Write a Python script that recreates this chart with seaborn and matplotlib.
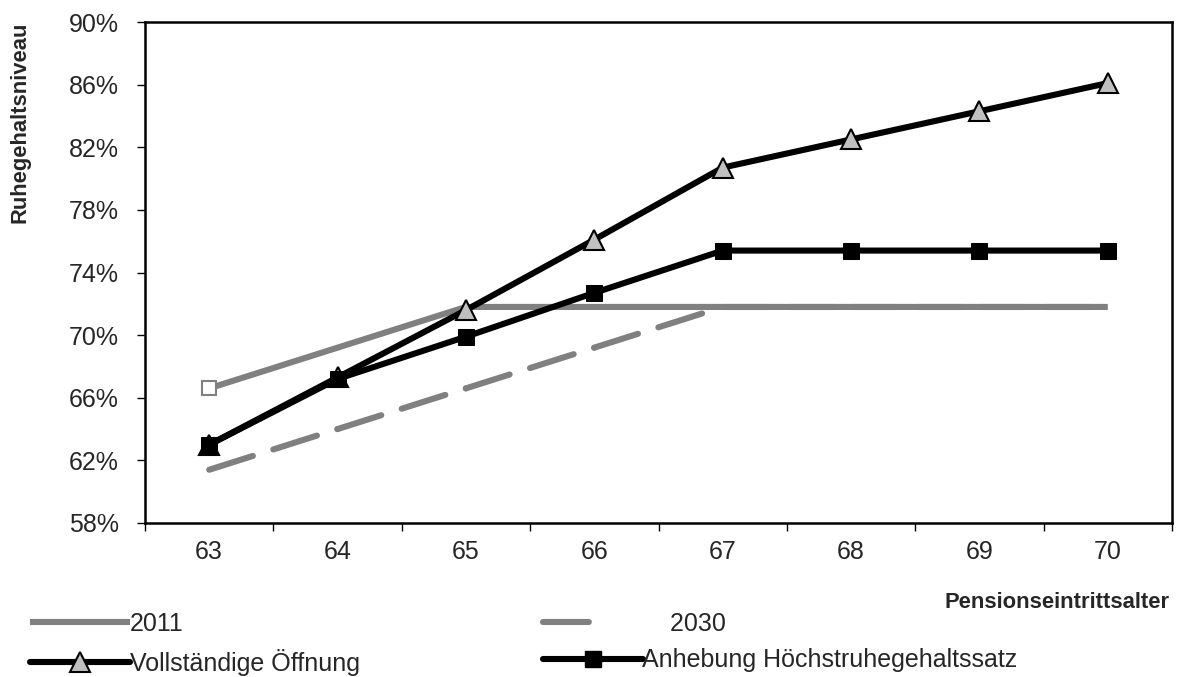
import matplotlib
matplotlib.use("Agg")
import matplotlib.pyplot as plt
from matplotlib.lines import Line2D
from matplotlib.ticker import FixedLocator, FuncFormatter, NullFormatter
import numpy as np
import seaborn as sns

# Retirement age and replacement rate (%) per scenario
ages = [63, 64, 65, 66, 67, 68, 69, 70]
rate_2011 = [66.6, 69.2, 71.8, 71.8, 71.8, 71.8, 71.8, 71.8]
rate_2030 = [61.4, 64.0, 66.6, 69.2, 71.8, 71.8, 71.8, 71.8]
rate_open = [63.0, 67.3, 71.6, 76.1, 80.7, 82.5, 84.3, 86.1]
rate_raise = [63.0, 67.2, 69.9, 72.7, 75.4, 75.4, 75.4, 75.4]

y_ticks = [58, 62, 66, 70, 74, 78, 82, 86, 90]

sns.set_style("white")
plt.rcParams["font.family"] = ["Liberation Sans", "DejaVu Sans"]

FS = 18
FS_TITLE = 15.8
fig = plt.figure(figsize=(11.77, 6.77), dpi=100)
ax = fig.add_axes([145 / 1177, 1 - 523 / 677, 1027 / 1177, 501 / 677])

pos = np.arange(len(ages))
grey = "#808080"
lw = 4.4
dash = (7.5, 3.5)

# 2030: long-dashed grey, dash pattern restarts on every segment
for i in range(len(pos) - 1):
    ax.plot(pos[i:i + 2], rate_2030[i:i + 2], color=grey, lw=lw,
            dashes=dash, dash_capstyle="round", zorder=2)

# 2011: solid grey, open square on the first age only
sns.lineplot(x=pos, y=rate_2011, ax=ax, color=grey, lw=lw, marker="s",
             markevery=[0], markersize=10, markerfacecolor="white",
             markeredgecolor=grey, markeredgewidth=1.5,
             solid_capstyle="butt", legend=False, zorder=3)

sns.lineplot(x=pos, y=rate_open, ax=ax, color="black", lw=lw, marker="^",
             markersize=14, markerfacecolor="#c0c0c0", markeredgecolor="black",
             markeredgewidth=1.5, legend=False, zorder=4)
sns.lineplot(x=pos, y=rate_raise, ax=ax, color="black", lw=lw, marker="s",
             markersize=11, markerfacecolor="black", markeredgecolor="black",
             legend=False, zorder=5)

ax.set_xlim(-0.5, len(ages) - 0.5)
ax.set_ylim(58, 90)

# x: tick marks between categories, labels at category centres
ax.xaxis.set_major_locator(FixedLocator(np.arange(-0.5, len(ages), 1.0)))
ax.xaxis.set_major_formatter(NullFormatter())
ax.xaxis.set_minor_locator(FixedLocator(pos))
ax.xaxis.set_minor_formatter(FuncFormatter(lambda v, p: str(ages[int(round(v))])))
ax.tick_params(axis="x", which="major", length=6, width=1, color="black",
               direction="out", bottom=True)
ax.tick_params(axis="x", which="minor", length=0, labelsize=FS, pad=12,
               bottom=True)

ax.yaxis.set_major_locator(FixedLocator(y_ticks))
ax.yaxis.set_major_formatter(FuncFormatter(lambda v, p: f"{v:.0f}%"))
ax.tick_params(axis="y", length=6, width=1, color="black", direction="out",
               labelsize=FS, pad=13, left=True)

for s in ax.spines.values():
    s.set_color("black")
    s.set_linewidth(1.8)

ax.set_ylabel("Ruhegehaltsniveau", fontsize=FS_TITLE, fontweight="bold")
ax.yaxis.set_label_coords(-0.1115, 0.80)
fig.text(1170 / 1177, 1 - 602 / 677, "Pensionseintrittsalter", fontsize=FS_TITLE,
         fontweight="bold", ha="right", va="center")

# Legend handles
h2011 = Line2D([], [], color=grey, lw=lw, solid_capstyle="butt")
h2030 = Line2D([], [], color=grey, lw=lw, dashes=(7.5, 30),
               dash_capstyle="round")
hopen = Line2D([], [], color="black", lw=lw, marker="^", markersize=14,
               markerfacecolor="#c0c0c0", markeredgecolor="black",
               markeredgewidth=1.5)
hraise = Line2D([], [], color="black", lw=lw, marker="s", markersize=11,
                markerfacecolor="black")
fig.legend([h2011, hopen, h2030, hraise],
           ["2011", "Vollständige Öffnung", "    2030",
            "Anhebung Höchstruhegehaltssatz"],
           ncol=2, loc="upper left", bbox_to_anchor=(30 / 1177, 1 - 612 / 677),
           frameon=False, fontsize=FS, handlelength=4.0, handletextpad=0.0,
           columnspacing=7.3, labelspacing=0.5, borderpad=0, borderaxespad=0)

fig.savefig("out.png", dpi=100, facecolor="white")
